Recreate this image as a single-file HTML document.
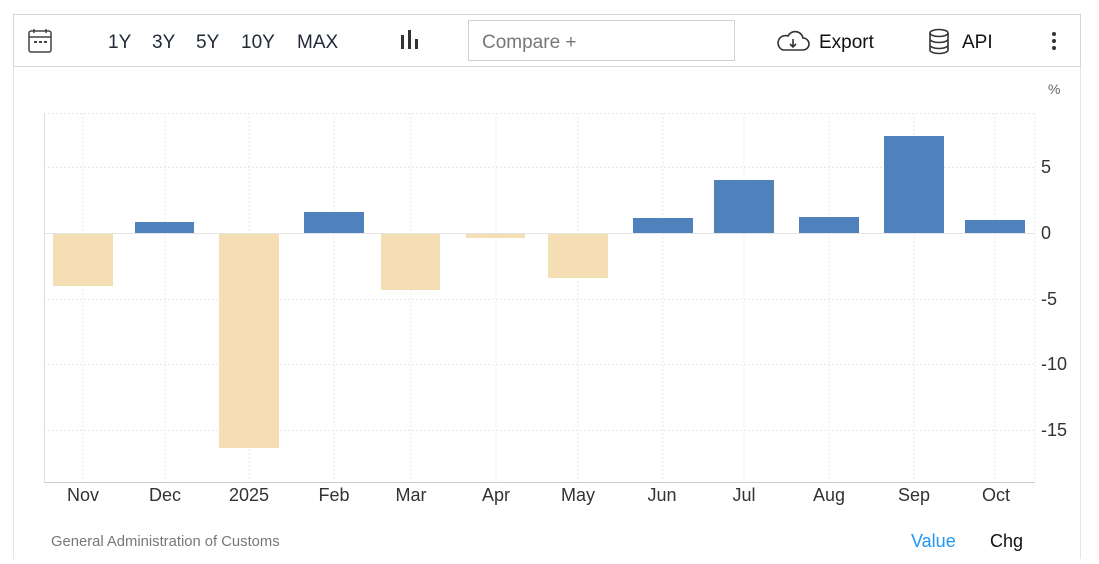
<!DOCTYPE html>
<html><head><meta charset="utf-8"><style>
body{margin:0;background:#fff;width:1099px;height:559px;overflow:hidden;font-family:"Liberation Sans",sans-serif}
</style></head><body>
<svg width="1099" height="559" xmlns="http://www.w3.org/2000/svg" font-family="Liberation Sans, sans-serif">
<rect x="13.5" y="14.5" width="1067" height="52" fill="#fff" stroke="#d6d6d6"/>
<line x1="13.5" y1="67" x2="13.5" y2="559" stroke="#e6e6e6"/>
<line x1="1080.5" y1="67" x2="1080.5" y2="559" stroke="#e6e6e6"/>
<g stroke="#444" stroke-width="1.5" fill="none"><rect x="29" y="31" width="22" height="21" rx="2"/><line x1="29" y1="37" x2="51" y2="37"/><line x1="34" y1="29" x2="34" y2="33"/><line x1="46" y1="29" x2="46" y2="33"/></g>
<g fill="#444"><rect x="34" y="41" width="3" height="2"/><rect x="39" y="41" width="3" height="2"/><rect x="44" y="41" width="3" height="2"/></g>
<g font-size="19" fill="#1f2937"><text x="108" y="48">1Y</text><text x="152" y="48">3Y</text><text x="196" y="48">5Y</text><text x="241" y="48">10Y</text><text x="297" y="48">MAX</text></g>
<g fill="#333"><rect x="401" y="35" width="3" height="14"/><rect x="408" y="30" width="3" height="19"/><rect x="415" y="39" width="3" height="10"/></g>
<rect x="468.5" y="20.5" width="266" height="40" fill="#fff" stroke="#d0d0d0"/>
<text x="482" y="48" font-size="19" fill="#777">Compare +</text>
<path d="M783 50 h20 a6 6 0 0 0 0-12 a8 8 0 0 0-15-2 a6 6 0 0 0-5 14z" fill="none" stroke="#333" stroke-width="1.6"/>
<path d="M793 39 v8 m-3-3 l3 3 l3-3" fill="none" stroke="#333" stroke-width="1.6"/>
<text x="819" y="48" font-size="19" fill="#111">Export</text>
<g fill="none" stroke="#333" stroke-width="1.6"><ellipse cx="939" cy="33" rx="9" ry="3.5"/><path d="M930 33 v17 a9 3.5 0 0 0 18 0 v-17 M930 39 a9 3.5 0 0 0 18 0 M930 45 a9 3.5 0 0 0 18 0"/></g>
<text x="962" y="48" font-size="19" fill="#111">API</text>
<g fill="#333"><circle cx="1054" cy="34" r="2"/><circle cx="1054" cy="41" r="2"/><circle cx="1054" cy="48" r="2"/></g>
<text x="1048" y="94" font-size="14" fill="#666">%</text>
<g stroke="#e8e8e8" stroke-dasharray="2,2">
<line x1="44" y1="113.5" x2="1035" y2="113.5"/><line x1="44" y1="167.5" x2="1035" y2="167.5"/>
<line x1="44" y1="299.5" x2="1035" y2="299.5"/><line x1="44" y1="364.5" x2="1035" y2="364.5"/><line x1="44" y1="430.5" x2="1035" y2="430.5"/>
<line x1="83" y1="113" x2="83" y2="482"/><line x1="165" y1="113" x2="165" y2="482"/><line x1="249" y1="113" x2="249" y2="482"/><line x1="334" y1="113" x2="334" y2="482"/><line x1="411" y1="113" x2="411" y2="482"/><line x1="496" y1="113" x2="496" y2="482"/><line x1="578" y1="113" x2="578" y2="482"/><line x1="663" y1="113" x2="663" y2="482"/><line x1="744" y1="113" x2="744" y2="482"/><line x1="829" y1="113" x2="829" y2="482"/><line x1="914" y1="113" x2="914" y2="482"/><line x1="995" y1="113" x2="995" y2="482"/><line x1="1035" y1="113" x2="1035" y2="482"/>
</g>
<line x1="44" y1="233.5" x2="1035" y2="233.5" stroke="#e4e4e4"/>
<line x1="44.5" y1="113" x2="44.5" y2="482" stroke="#ddd"/>
<line x1="44" y1="482.5" x2="1035" y2="482.5" stroke="#ccc"/>
<g fill="#f5deb3">
<rect x="53" y="234" width="60" height="52"/><rect x="219" y="234" width="60" height="214"/><rect x="381" y="234" width="59" height="56"/><rect x="466" y="234" width="59" height="4"/><rect x="548" y="234" width="60" height="44"/>
</g>
<g fill="#4f81bd">
<rect x="135" y="222" width="59" height="11"/><rect x="304" y="212" width="60" height="21"/><rect x="633" y="218" width="60" height="15"/><rect x="714" y="180" width="60" height="53"/><rect x="799" y="217" width="60" height="16"/><rect x="884" y="136" width="60" height="97"/><rect x="965" y="220" width="60" height="13"/>
</g>
<g font-size="18" fill="#333">
<text x="1041" y="173">5</text><text x="1041" y="239">0</text><text x="1041" y="305">-5</text><text x="1041" y="370">-10</text><text x="1041" y="436">-15</text>
</g>
<g font-size="18" fill="#333" text-anchor="middle">
<text x="83" y="501">Nov</text><text x="165" y="501">Dec</text><text x="249" y="501">2025</text><text x="334" y="501">Feb</text><text x="411" y="501">Mar</text><text x="496" y="501">Apr</text><text x="578" y="501">May</text><text x="662" y="501">Jun</text><text x="744" y="501">Jul</text><text x="829" y="501">Aug</text><text x="914" y="501">Sep</text><text x="996" y="501">Oct</text>
</g>
<text x="51" y="546" font-size="14.8" fill="#777">General Administration of Customs</text>
<text x="911" y="547" font-size="18" fill="#2196f3">Value</text>
<text x="990" y="547" font-size="18" fill="#111">Chg</text>
</svg>
</body></html>
